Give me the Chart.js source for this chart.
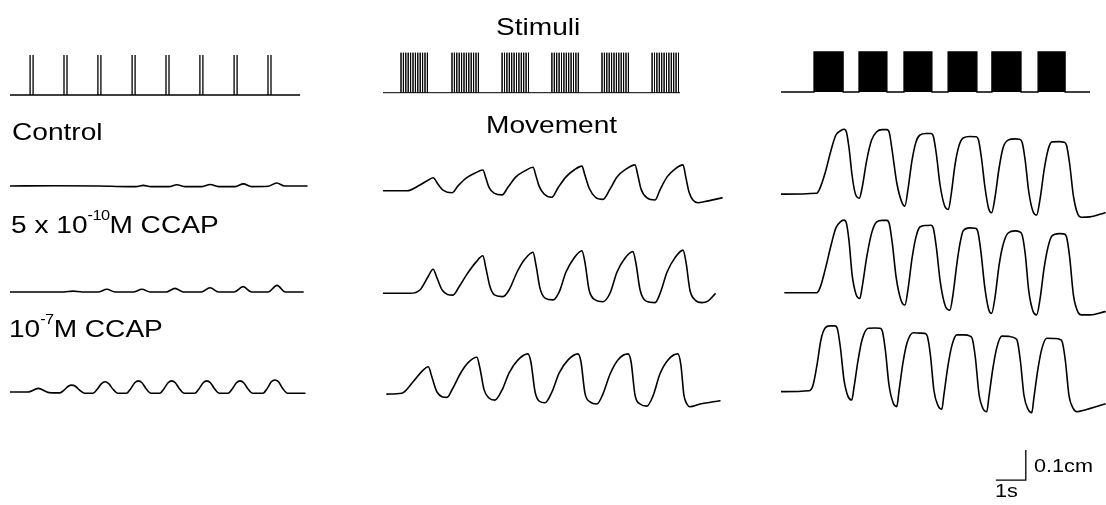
<!DOCTYPE html>
<html>
<head>
<meta charset="utf-8">
<script src="https://cdn.jsdelivr.net/npm/chart.js@4.4.0/dist/chart.umd.min.js"></script>
<style>
  body { margin: 0; background: #fff; width: 1106px; height: 505px; overflow: hidden; position: relative;
         font-family: "Liberation Sans", Arial, Helvetica, sans-serif; }
  canvas { position: absolute; top: 0; }
  .lbl { position: absolute; white-space: nowrap; line-height: 1; font-size: 24px; color: #000;
         transform: scaleX(1.17); transform-origin: 0 0; }
  .lbl sup { font-size: 14px; vertical-align: 13px; line-height: 0; letter-spacing: -0.5px; }
  .small { font-size: 18.5px; }
</style>
</head>
<body>
<canvas id="colSingle"></canvas>
<canvas id="colBurst"></canvas>
<canvas id="colTrain"></canvas>

<div class="lbl" style="left:496px;top:15px">Stimuli</div>
<div class="lbl" style="left:486px;top:113px">Movement</div>
<div class="lbl" style="left:11.5px;top:120px">Control</div>
<div class="lbl" style="left:11px;top:213px">5 x 10<sup>-10</sup>M CCAP</div>
<div class="lbl" style="left:9px;top:317px">10<sup>-7</sup>M CCAP</div>
<div class="lbl small" style="left:1034px;top:457px">0.1cm</div>
<div class="lbl small" style="left:994.5px;top:482px">1s</div>

<script>
// ---- stimuli (time in s, stimulus height normalised to 1) ----
const singlePulseTimes = [0.67, 0.77, 1.80, 1.90, 2.93, 3.03, 4.07, 4.17, 5.20, 5.30, 6.33, 6.43, 7.47, 7.57, 8.60, 8.70];
const burstOnsets = [0.6, 2.3, 3.97, 5.63, 7.3, 8.97];
const burstSpikeOffsets = [0, 0.08, 0.16, 0.24, 0.32, 0.40, 0.48, 0.56, 0.64, 0.72, 0.80, 0.88];
const trainBlocks = [[1.1, 2.07], [2.6, 3.53], [4.1, 5.03], [5.57, 6.53], [7.03, 8.0], [8.57, 9.47]];
const stimEnd = [9.67, 9.9, 10.3];

// ---- movement traces [time s, displacement cm] ----
const singleControl = [[0,0],[1.5,0.001],[3.0,0],[3.9,-0.002],[4.2,-0.002],[4.44,0.002],[4.7,-0.002],[5.3,-0.002],[5.56,0.004],[5.85,-0.002],[6.4,-0.002],[6.67,0.005],[6.95,-0.002],[7.5,-0.002],[7.78,0.007],[8.05,-0.002],[8.6,-0.001],[8.89,0.01],[9.15,0],[9.9,0]];
const singleCcapLow = [[0,0],[1.8,0],[2.1,0.003],[2.4,0],[2.93,0],[3.23,0.009],[3.5,0],[4.1,0],[4.4,0.009],[4.67,0],[5.2,0],[5.5,0.012],[5.78,0],[6.37,0],[6.67,0.014],[6.95,0],[7.47,0],[7.77,0.018],[8.05,0],[8.6,0],[8.9,0.022],[9.18,0],[9.77,0]];
const singleCcapHigh = [[0,0],[0.6,0],[0.94,0.012],[1.3,-0.002],
  [1.66,-0.003],[1.81,0.007],[1.94,0.019],[2.06,0.023],[2.18,0.019],[2.31,0.007],[2.48,-0.004],
  [2.77,-0.004],[2.92,0.011],[3.05,0.028],[3.17,0.034],[3.29,0.028],[3.42,0.011],[3.59,-0.004],
  [3.88,-0.004],[4.03,0.012],[4.16,0.031],[4.28,0.037],[4.4,0.031],[4.53,0.012],[4.7,-0.004],
  [4.99,-0.004],[5.14,0.012],[5.27,0.031],[5.39,0.037],[5.51,0.031],[5.64,0.012],[5.81,-0.004],
  [6.16,-0.004],[6.31,0.012],[6.44,0.031],[6.56,0.037],[6.68,0.031],[6.81,0.012],[6.98,-0.004],
  [7.27,-0.004],[7.42,0.012],[7.55,0.031],[7.67,0.037],[7.79,0.031],[7.92,0.012],[8.09,-0.004],
  [8.43,-0.004],[8.58,0.013],[8.71,0.034],[8.83,0.04],[8.95,0.034],[9.08,0.013],[9.25,-0.004],[9.83,-0.004]];

const burstControl = [[0,0],[0.8,0],[1.23,0.019],[1.5,0.035],[1.67,0.043],[1.83,0.022],[2.0,0.002],[2.3,-0.007],
  [2.5,0.016],[2.77,0.042],[3.07,0.059],[3.33,0.069],[3.43,0.042],[3.53,0.012],[3.7,-0.008],[3.97,-0.014],
  [4.17,0.012],[4.43,0.046],[4.73,0.066],[5.0,0.078],[5.1,0.049],[5.2,0.016],[5.37,-0.011],[5.63,-0.022],
  [5.83,0.009],[6.1,0.046],[6.37,0.069],[6.63,0.082],[6.73,0.052],[6.87,0.009],[7.07,-0.021],[7.33,-0.029],
  [7.57,0.006],[7.8,0.046],[8.1,0.072],[8.4,0.086],[8.5,0.049],[8.6,0.006],[8.8,-0.024],[9.07,-0.031],
  [9.23,0.002],[9.47,0.046],[9.73,0.072],[10.0,0.086],[10.1,0.042],[10.2,-0.004],[10.33,-0.031],[10.5,-0.04],
  [10.73,-0.036],[11.3,-0.024]];
const burstCcapLow = [[0,0],[0.9,0],[1.23,0.011],[1.5,0.055],[1.67,0.08],[1.8,0.051],[1.97,0.011],[2.33,-0.006],
  [2.53,0.021],[2.8,0.064],[3.1,0.104],[3.33,0.125],[3.43,0.084],[3.57,0.021],[3.73,-0.006],[4.0,-0.011],
  [4.2,0.011],[4.47,0.071],[4.73,0.114],[5.0,0.137],[5.1,0.094],[5.23,0.018],[5.4,-0.016],[5.67,-0.022],
  [5.87,0.004],[6.1,0.071],[6.37,0.118],[6.63,0.142],[6.73,0.104],[6.87,0.011],[7.07,-0.022],[7.33,-0.028],
  [7.57,0.001],[7.8,0.071],[8.07,0.118],[8.33,0.139],[8.43,0.101],[8.57,0.011],[8.77,-0.026],[9.07,-0.031],
  [9.23,-0.002],[9.47,0.071],[9.73,0.118],[10.0,0.144],[10.1,0.104],[10.23,0.011],[10.4,-0.022],[10.63,-0.031],
  [10.83,-0.026],[11.07,-0.002]];
const burstCcapHigh = [[0.13,-0.002],[0.63,0.001],[1.01,0.04],[1.29,0.073],[1.51,0.089],[1.63,0.055],[1.8,0.005],[2.13,-0.013],
  [2.33,0.018],[2.57,0.065],[2.83,0.102],[3.13,0.121],[3.23,0.085],[3.37,0.012],[3.53,-0.015],[3.73,-0.022],
  [3.97,0.012],[4.2,0.068],[4.5,0.112],[4.83,0.132],[4.93,0.105],[5.07,0.005],[5.2,-0.025],[5.4,-0.031],
  [5.63,0.005],[5.87,0.068],[6.17,0.112],[6.5,0.132],[6.6,0.105],[6.73,0.002],[6.9,-0.028],[7.13,-0.035],
  [7.33,-0.002],[7.57,0.065],[7.83,0.112],[8.17,0.132],[8.27,0.105],[8.4,-0.005],[8.57,-0.035],[8.8,-0.042],
  [9.0,-0.008],[9.23,0.065],[9.5,0.112],[9.83,0.132],[9.93,0.095],[10.03,-0.005],[10.13,-0.035],[10.23,-0.044],
  [10.57,-0.035],[11.23,-0.024]];

const trainControl = [[0,-0.002],[1.19,0.001],[1.3,0.018],[1.47,0.068],[1.67,0.145],[1.83,0.195],[2.0,0.21],[2.1,0.214],
  [2.18,0.205],[2.27,0.15],[2.37,0.06],[2.47,0.002],[2.61,-0.016],
  [2.69,0.012],[2.86,0.112],[3.02,0.178],[3.19,0.206],[3.37,0.213],[3.53,0.213],
  [3.61,0.203],[3.71,0.14],[3.86,0.035],[4.02,-0.027],[4.13,-0.042],
  [4.23,0.012],[4.37,0.112],[4.5,0.172],[4.63,0.195],[4.83,0.2],[5.0,0.2],
  [5.08,0.19],[5.18,0.13],[5.3,0.03],[5.45,-0.04],[5.58,-0.053],
  [5.67,-0.005],[5.8,0.095],[5.93,0.158],[6.07,0.185],[6.3,0.19],[6.5,0.189],
  [6.58,0.18],[6.68,0.12],[6.8,0.02],[6.92,-0.05],[7.02,-0.064],
  [7.13,-0.015],[7.27,0.085],[7.4,0.152],[7.57,0.178],[7.8,0.182],[7.95,0.181],
  [8.04,0.17],[8.14,0.11],[8.26,0.005],[8.4,-0.06],[8.52,-0.072],
  [8.63,-0.022],[8.77,0.078],[8.9,0.145],[9.03,0.172],[9.27,0.173],[9.43,0.171],
  [9.52,0.16],[9.62,0.1],[9.75,-0.01],[9.9,-0.07],[10.02,-0.079],[10.3,-0.078],[10.8,-0.064]];
const trainCcapLow = [[0.13,0],[1.19,0],[1.3,0.016],[1.47,0.076],[1.67,0.159],[1.83,0.216],[2.0,0.238],[2.1,0.242],
  [2.18,0.232],[2.27,0.17],[2.37,0.06],[2.5,-0.005],[2.63,-0.019],
  [2.7,0.016],[2.87,0.126],[3.03,0.202],[3.19,0.236],[3.37,0.241],[3.53,0.241],
  [3.61,0.23],[3.71,0.165],[3.84,0.05],[4.0,-0.025],[4.13,-0.041],
  [4.23,0.009],[4.37,0.116],[4.5,0.186],[4.63,0.219],[4.83,0.224],[5.0,0.225],
  [5.08,0.214],[5.18,0.15],[5.31,0.035],[5.48,-0.045],[5.63,-0.058],
  [5.73,-0.008],[5.87,0.102],[5.97,0.166],[6.07,0.206],[6.3,0.216],[6.47,0.215],
  [6.56,0.204],[6.66,0.14],[6.79,0.02],[6.92,-0.055],[7.02,-0.069],
  [7.13,-0.018],[7.27,0.092],[7.4,0.159],[7.57,0.199],[7.8,0.206],[7.95,0.203],
  [8.04,0.192],[8.14,0.13],[8.26,0.005],[8.4,-0.062],[8.52,-0.074],
  [8.63,-0.024],[8.77,0.082],[8.9,0.152],[9.03,0.189],[9.27,0.197],[9.43,0.196],
  [9.52,0.185],[9.62,0.12],[9.75,-0.01],[9.9,-0.065],[10.02,-0.074],[10.3,-0.074],[10.8,-0.063]];
const trainCcapHigh = [[0,-0.002],[0.94,0.001],[1.07,0.02],[1.2,0.087],[1.33,0.17],[1.47,0.21],[1.63,0.217],[1.8,0.217],
  [1.88,0.207],[1.98,0.145],[2.1,0.037],[2.23,-0.017],[2.36,-0.03],
  [2.43,0.01],[2.57,0.103],[2.7,0.17],[2.91,0.209],[3.13,0.21],[3.3,0.209],
  [3.38,0.199],[3.48,0.135],[3.6,0.02],[3.74,-0.04],[3.86,-0.052],
  [3.93,-0.003],[4.07,0.097],[4.2,0.16],[4.41,0.194],[4.63,0.193],[4.8,0.192],
  [4.88,0.182],[4.98,0.12],[5.1,0.0],[5.24,-0.05],[5.36,-0.061],
  [5.43,-0.013],[5.57,0.087],[5.7,0.153],[5.86,0.187],[6.1,0.187],[6.3,0.183],
  [6.38,0.173],[6.48,0.11],[6.6,-0.01],[6.74,-0.06],[6.86,-0.069],
  [6.93,-0.02],[7.07,0.08],[7.2,0.147],[7.36,0.183],[7.6,0.182],[7.8,0.176],
  [7.88,0.166],[7.98,0.1],[8.1,-0.015],[8.24,-0.062],[8.36,-0.072],
  [8.43,-0.023],[8.57,0.077],[8.7,0.143],[8.86,0.176],[9.1,0.175],[9.3,0.172],
  [9.38,0.162],[9.48,0.1],[9.6,-0.015],[9.74,-0.058],[9.86,-0.069],[10.13,-0.063],[10.8,-0.043]];

// scale bar
const scaleBarSeconds = 1;
const scaleBarCm = 0.1;

// ---- layout ----
const H = 505;
const PX_PER_S = 30, PX_PER_CM = 300, PX_PER_STIM = 40;
const columns = {
  single: { id: 'colSingle', left: 10,  width: 300, base: { stim: 95,   A: 186,   B: 292,   C: 392 } },
  burst:  { id: 'colBurst',  left: 383, width: 345, base: { stim: 92.7, A: 190.7, B: 293.3, C: 393.5 } },
  train:  { id: 'colTrain',  left: 781, width: 325, base: { stim: 92,   A: 193.5, B: 292.7, C: 391 } }
};
const scaleBarCorner = { t: 8.16, d: -0.297 };

function range(basePx, perUnit) {
  return { min: -(H - basePx) / perUnit, max: basePx / perUnit };
}

function trace(points, axis) {
  return {
    data: points.map(p => ({ x: p[0], y: p[1] })),
    yAxisID: axis,
    borderColor: '#000',
    borderWidth: 1.6,
    cubicInterpolationMode: 'monotone',
    borderJoinStyle: 'round',
    borderCapStyle: 'round',
    fill: false
  };
}

function spikes(times, end) {
  const pts = [{ x: 0, y: 0 }];
  times.forEach(t => { pts.push({ x: t, y: 0 }, { x: t, y: 1 }, { x: t, y: 0 }); });
  pts.push({ x: end, y: 0 });
  return pts;
}

function stimLine(pts, width) {
  return { data: pts, yAxisID: 'yStim', borderColor: '#000', borderWidth: width, tension: 0, fill: false };
}

function makeColumn(col, datasets) {
  const cv = document.getElementById(col.id);
  cv.width = col.width;
  cv.height = H;
  cv.style.left = col.left + 'px';
  const scales = {
    x: { type: 'linear', display: false, min: 0, max: col.width / PX_PER_S },
    yStim: Object.assign({ type: 'linear', display: false }, range(col.base.stim, PX_PER_STIM))
  };
  ['A', 'B', 'C'].forEach(r => {
    scales['y' + r] = Object.assign({ type: 'linear', display: false }, range(col.base[r], PX_PER_CM));
  });
  return new Chart(cv, {
    type: 'line',
    data: { datasets: datasets },
    options: {
      responsive: false,
      animation: false,
      events: [],
      layout: { padding: 0 },
      elements: { point: { radius: 0 } },
      scales: scales,
      plugins: { legend: { display: false }, tooltip: { enabled: false } }
    }
  });
}

// column 1: single pulses
makeColumn(columns.single, [
  stimLine(spikes(singlePulseTimes, stimEnd[0]), 1.3),
  trace(singleControl, 'yA'),
  trace(singleCcapLow, 'yB'),
  trace(singleCcapHigh, 'yC')
]);

// column 2: bursts
const burstTimes = [];
burstOnsets.forEach(on => burstSpikeOffsets.forEach(o => burstTimes.push(on + o)));
makeColumn(columns.burst, [
  stimLine(spikes(burstTimes, stimEnd[1]), 1),
  trace(burstControl, 'yA'),
  trace(burstCcapLow, 'yB'),
  trace(burstCcapHigh, 'yC')
]);

// column 3: continuous trains + scale bar
const blockPts = [{ x: 0, y: 0 }];
trainBlocks.forEach(b => {
  blockPts.push({ x: b[0], y: 0 }, { x: b[0], y: 1 }, { x: b[1], y: 1 }, { x: b[1], y: 0 });
});
blockPts.push({ x: stimEnd[2], y: 0 });
const blockSet = stimLine(blockPts, 1.3);
blockSet.fill = 'origin';
blockSet.backgroundColor = '#000';

const barSet = {
  data: [
    { x: scaleBarCorner.t - scaleBarSeconds, y: scaleBarCorner.d },
    { x: scaleBarCorner.t, y: scaleBarCorner.d },
    { x: scaleBarCorner.t, y: scaleBarCorner.d + scaleBarCm }
  ],
  yAxisID: 'yC', borderColor: '#000', borderWidth: 1.3, tension: 0, fill: false
};

makeColumn(columns.train, [
  blockSet,
  trace(trainControl, 'yA'),
  trace(trainCcapLow, 'yB'),
  trace(trainCcapHigh, 'yC'),
  barSet
]);
</script>
</body>
</html>
